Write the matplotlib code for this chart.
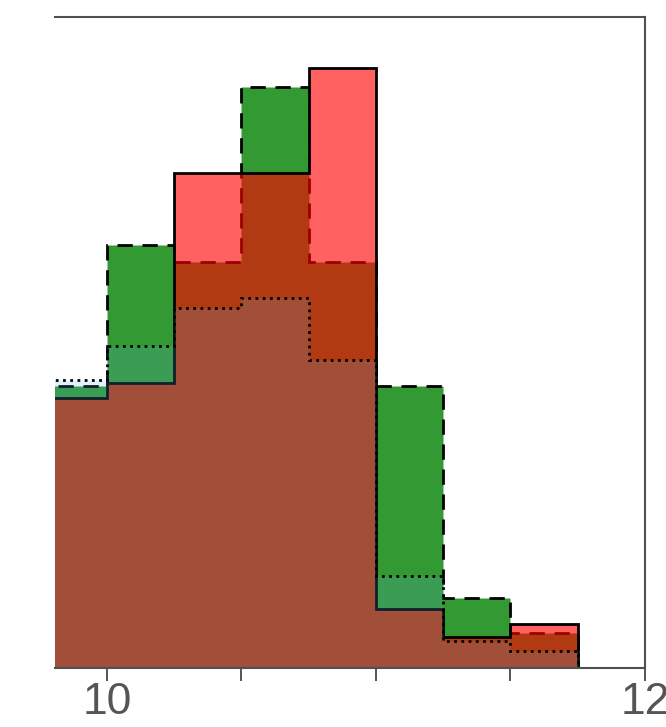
import matplotlib
matplotlib.use("Agg")
import matplotlib.pyplot as plt
import numpy as np

# bin edges (x values)
bin_edges = [9.75, 10.0, 10.25, 10.5, 10.75, 11.0, 11.25, 11.5, 11.75, 12.0]
# heights (arbitrary units, no y axis shown)
red_solid = [27.0, 28.5, 49.5, 49.5, 60.0, 5.9, 3.1, 4.4, 0.0]
green_dashed = [28.2, 42.3, 40.6, 58.1, 40.6, 28.2, 7.0, 3.5, 0.0]
blue_dotted = [28.8, 32.2, 36.0, 37.0, 30.8, 9.2, 2.7, 1.7, 0.0]

tick_pos = [10, 10.5, 11, 11.5, 12]
tick_labels = ["10", "", "", "", "12"]

plt.rcParams['font.family'] = ['Liberation Sans', 'DejaVu Sans']

fig = plt.figure(figsize=(6.66, 7.27), dpi=100)
ax = fig.add_axes([55/666, (727-668)/727, (645-55)/666, (668-17)/727])

centers = [(a + b) / 2 for a, b in zip(bin_edges[:-1], bin_edges[1:])]
lw = 2.0
ax.hist(centers, bins=bin_edges, weights=green_dashed, histtype='stepfilled',
        facecolor=(0.0, 0.502, 0.0, 0.8), edgecolor='black', linewidth=lw,
        linestyle=(0, (5.5, 3.5)), zorder=2)
ax.hist(centers, bins=bin_edges, weights=red_solid, histtype='stepfilled',
        facecolor=(1.0, 0.0, 0.0, 0.62), edgecolor='black', linewidth=lw,
        linestyle='-', zorder=3)
ax.hist(centers, bins=bin_edges, weights=blue_dotted, histtype='stepfilled',
        facecolor=(90/255, 180/255, 233/255, 0.18), edgecolor='black', linewidth=lw,
        linestyle=(0, (1, 1.6)), zorder=4)

ax.set_xlim(9.807, 12.0)
ax.set_ylim(0, 65.1)
ax.set_yticks([])
ax.set_xticks(tick_pos)
ax.set_xticklabels(tick_labels)
ax.tick_params(axis='x', direction='out', length=9, width=1.4, color='#555555',
               labelcolor='#555555', labelsize=32, pad=1)
ax.spines['left'].set_visible(False)
for s in ['top', 'right', 'bottom']:
    ax.spines[s].set_color('#505050')
    ax.spines[s].set_linewidth(1.5)
    ax.spines[s].set_zorder(5)

fig.savefig("out.png", dpi=100)
